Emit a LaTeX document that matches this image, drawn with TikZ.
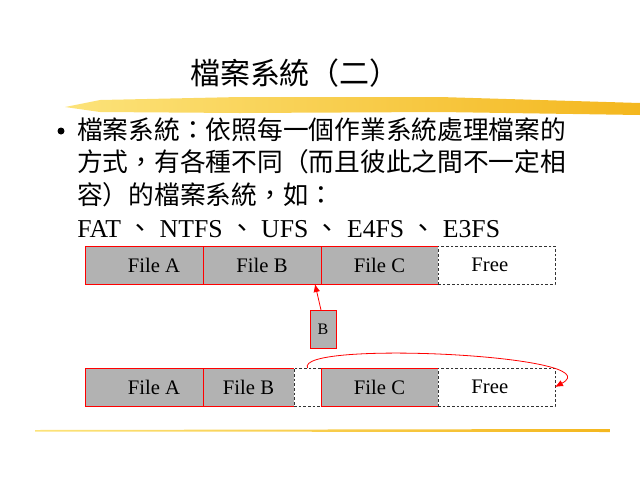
\documentclass[tikz,border=0pt]{standalone}
\usepackage{fontspec}
\setmainfont{Liberation Serif}
\newfontfamily\cjk{Noto Sans CJK TC}
\usetikzlibrary{positioning,arrows.meta}

\definecolor{brushlight}{HTML}{FCE37A}
\definecolor{brushdark}{HTML}{F4B71E}
\definecolor{blockgray}{HTML}{B2B2B2}

\tikzset{
  filebox/.style={draw=red, fill=blockgray, line width=0.75pt,
    minimum height=28.5pt, inner sep=0pt, outer sep=0pt,
    font=\fontsize{15.5}{18}\selectfont},
  freebox/.style={draw=black!80, fill=white, line width=0.6pt,
    dash pattern=on 2pt off 1.5pt,
    minimum height=28.5pt, inner sep=0pt, outer sep=0pt,
    font=\fontsize{15.5}{18}\selectfont},
  bodytext/.style={anchor=base west, inner sep=0pt,
    font=\fontsize{19.3}{24}\selectfont},
  pointer/.style={red, line width=0.6pt, -{Latex[length=6pt,width=5pt]}}
}

\begin{document}
\begin{tikzpicture}[x=0.75pt, y=-0.75pt]
  \useasboundingbox (0,0) rectangle (640,480);

  % --- title and brush strokes ---
  \node[anchor=base, inner sep=0pt, font=\fontsize{22.5}{27}\selectfont\cjk]
    (title) at (295,84) {檔案系統（二）};
  \shade[left color=brushlight, right color=brushdark]
    (65,107) -- (100,100) -- (240,97) -- (440,97) -- (640,103)
    -- (640,115) -- (440,112) -- (240,113) -- (100,112) -- cycle;
  \shade[left color=brushlight, right color=brushdark]
    (35,430) -- (610,429) -- (610,432) -- (35,431.5) -- cycle;

  % --- bullet text ---
  \node[circle, fill=black, inner sep=0pt, minimum size=5.25pt] (bullet) at (61,131) {};
  \node[bodytext] (line1) at (77,139) {\cjk 檔案系統：依照每一個作業系統處理檔案的};
  \node[bodytext] (line2) at (77,171) {\cjk 方式，有各種不同（而且彼此之間不一定相};
  \node[bodytext] (line3) at (77,204) {\cjk 容）的檔案系統，如：};
  \node[bodytext] (line4) at (77,237)
    {FAT {\cjk 、} NTFS {\cjk 、} UFS {\cjk 、} E4FS {\cjk 、} E3FS};

  % --- disk before ---
  \node[filebox, minimum width=88.5pt, anchor=west] (fileA) at (85,265) {\hspace*{15pt}File A};
  \node[filebox, minimum width=88.5pt, right=0pt of fileA] (fileB) {File B};
  \node[filebox, minimum width=87.75pt, right=0pt of fileB] (fileC) {File C};
  \node[freebox, minimum width=87.75pt, right=0pt of fileC] (free) {Free\hspace*{10pt}};

  % --- moved block ---
  \node[filebox, minimum width=19.5pt, font=\fontsize{12}{14}\selectfont]
    (moved) at (323,329) {B};
  \draw[pointer] ([xshift=-1.5pt]moved.north) -- ([xshift=-4.5pt]fileB.south east);

  % --- disk after ---
  \node[filebox, minimum width=88.5pt, anchor=west] (fileA2) at (85,387) {\hspace*{15pt}File A};
  \node[filebox, minimum width=68.25pt, right=0pt of fileA2] (fileB2) {File B};
  \node[freebox, minimum width=20.25pt, right=0pt of fileB2] (hole) {};
  \node[filebox, minimum width=87.75pt, right=0pt of hole] (fileC2) {File C};
  \node[freebox, minimum width=87.75pt, right=0pt of fileC2] (free2) {Free\hspace*{10pt}};
  \draw[pointer] (hole.north) .. controls (295,340) and (615,355) .. (free2.east);
\end{tikzpicture}
\end{document}
